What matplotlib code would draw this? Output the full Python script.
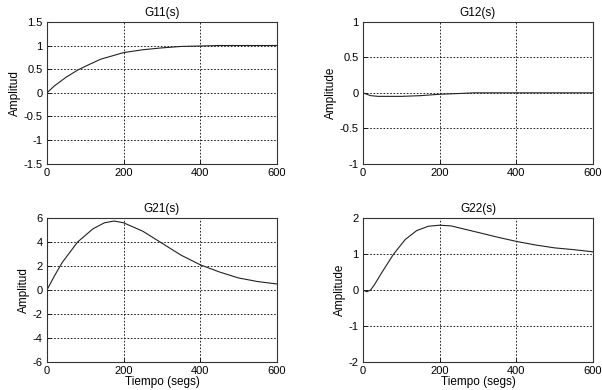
import matplotlib
matplotlib.use('Agg')
import matplotlib.pyplot as plt
import numpy as np

plt.rcParams['font.family'] = ['Liberation Sans', 'DejaVu Sans']

# datos (tiempo en segs)
t11 = [0, 20, 50, 80, 100, 140, 170, 200, 250, 300, 350, 400, 450, 500, 600]
g11 = [0, 0.15, 0.33, 0.48, 0.56, 0.71, 0.78, 0.85, 0.91, 0.95, 0.98, 0.99, 1.0, 1.0, 1.0]

t12 = [0, 20, 40, 70, 100, 150, 200, 250, 290, 350, 600]
g12 = [0, -0.04, -0.05, -0.05, -0.05, -0.04, -0.02, -0.01, 0, 0, 0]

t21 = [0, 20, 40, 80, 120, 150, 175, 200, 250, 300, 350, 400, 450, 500, 550, 600]
g21 = [0, 1.2, 2.3, 4.0, 5.1, 5.6, 5.75, 5.6, 4.9, 3.9, 2.9, 2.1, 1.5, 1.0, 0.7, 0.5]

t22 = [0, 10, 20, 30, 50, 80, 110, 140, 170, 200, 230, 300, 350, 400, 450, 500, 550, 600]
g22 = [0, -0.05, 0.0, 0.15, 0.5, 1.0, 1.4, 1.65, 1.77, 1.8, 1.78, 1.6, 1.47, 1.35, 1.25, 1.17, 1.12, 1.06]

paneles = [
    ('G11(s)', t11, g11, (-1.5, 1.5), np.arange(-1.5, 1.51, 0.5), ['-1.5', '-1', '-0.5', '0', '0.5', '1', '1.5'], 'Amplitud', False),
    ('G12(s)', t12, g12, (-1, 1), [-1, -0.5, 0, 0.5, 1], ['-1', '-0.5', '0', '0.5', '1'], 'Amplitude', False),
    ('G21(s)', t21, g21, (-6, 6), [-6, -4, -2, 0, 2, 4, 6], ['-6', '-4', '-2', '0', '2', '4', '6'], 'Amplitud', True),
    ('G22(s)', t22, g22, (-2, 2), [-2, -1, 0, 1, 2], ['-2', '-1', '0', '1', '2'], 'Amplitude', True),
]

posiciones = [
    [0.078, 0.580, 0.382, 0.364],
    [0.603, 0.580, 0.382, 0.364],
    [0.078, 0.072, 0.382, 0.369],
    [0.603, 0.072, 0.382, 0.369],
]

fig = plt.figure(figsize=(6.02, 3.9), dpi=100)

for pos, (titulo, t, g, ylim, yt, ytl, ylab, xlab) in zip(posiciones, paneles):
    ax = fig.add_axes(pos)
    ax.plot(t, g, color='#222222', lw=0.8)
    ax.set_xlim(0, 600)
    ax.set_ylim(*ylim)
    ax.set_xticks([0, 200, 400, 600])
    ax.set_yticks(yt)
    ax.set_yticklabels(ytl)
    ax.tick_params(direction='in', labelsize=8, length=3, width=0.6, pad=3)
    ax.grid(True, color='black', linestyle=(0, (2, 2)), linewidth=0.6)
    ax.set_title(titulo, fontsize=8.5, pad=4)
    ax.set_ylabel(ylab, fontsize=8.5, labelpad=2)
    if xlab:
        ax.set_xlabel('Tiempo (segs)', fontsize=8.5, labelpad=0)
    for s in ax.spines.values():
        s.set_linewidth(0.8)
        s.set_color('#333333')

fig.savefig('out.png', dpi=100)
